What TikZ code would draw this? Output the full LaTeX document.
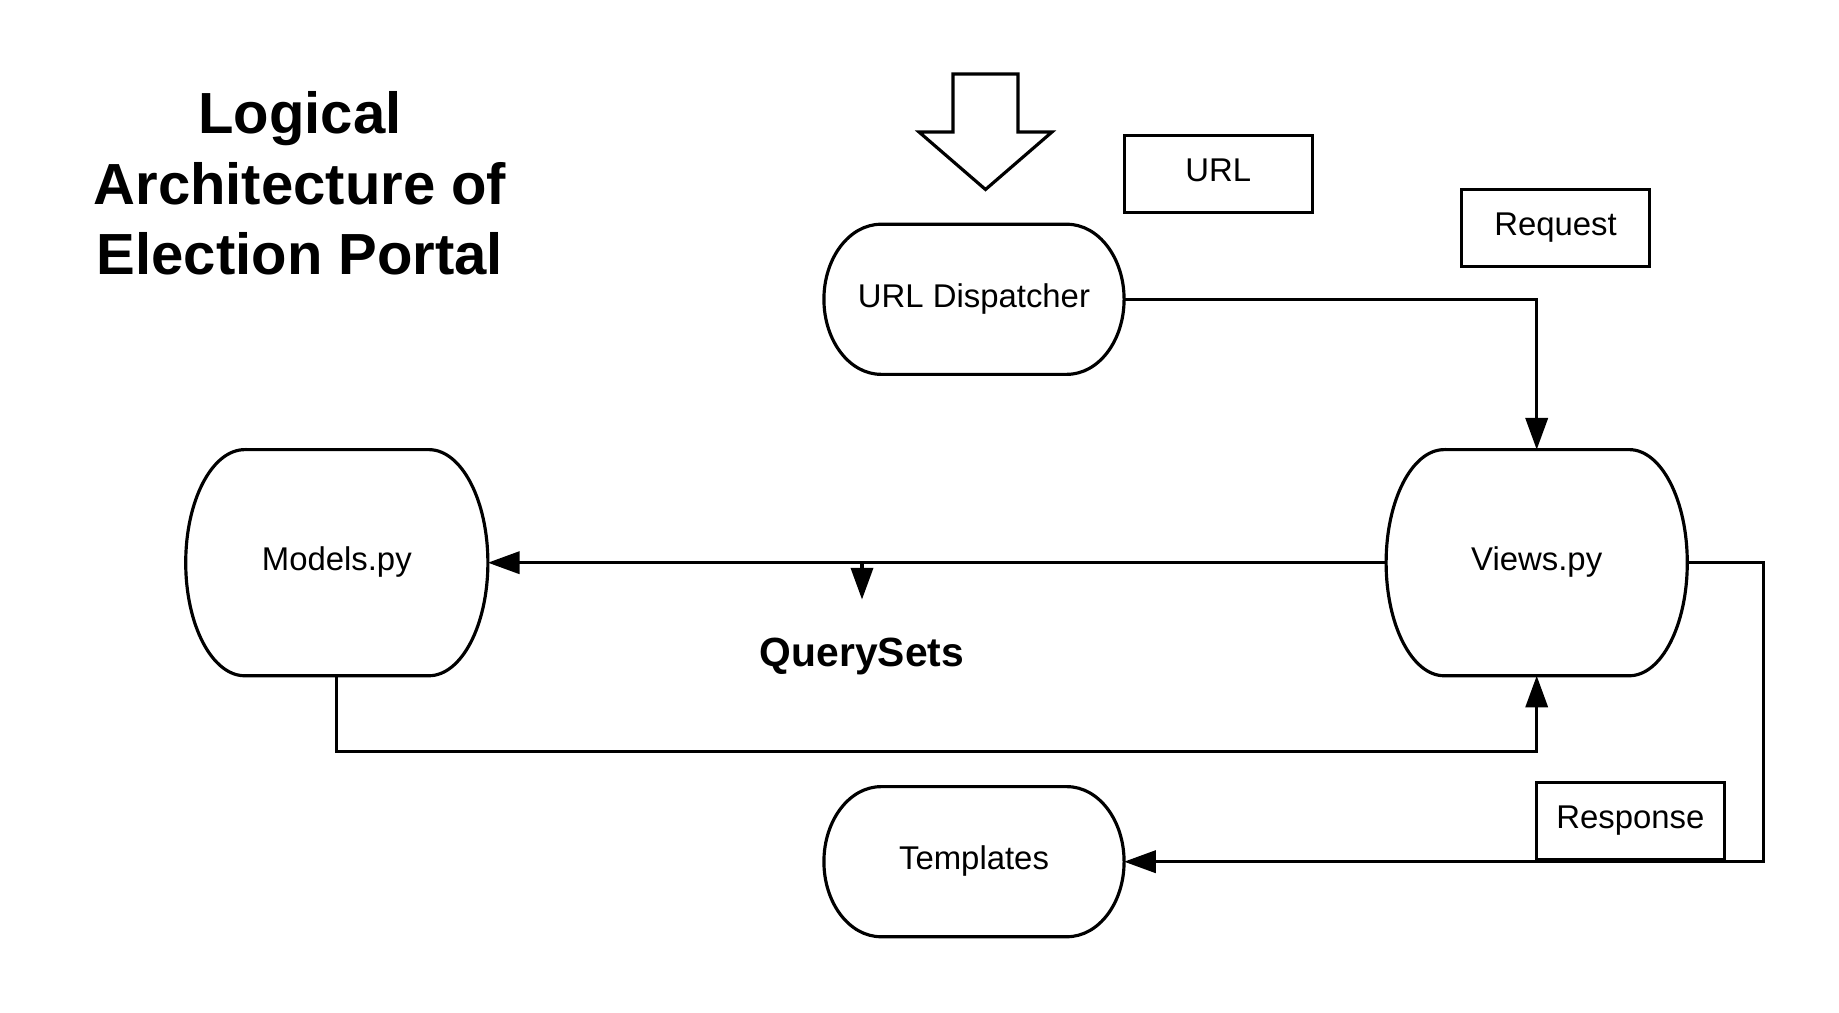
\documentclass[tikz,border=0pt]{standalone}
\usepackage{fontspec}
\setmainfont{Liberation Sans}
\usetikzlibrary{arrows.meta}

\begin{document}
\begin{tikzpicture}[
      x=0.01cm, y=-0.01cm,
      nodes={
        font=\fontsize{9.35}{11}\selectfont, inner sep=0pt, outer sep=0pt
      },
      lbl/.style={text height=0.72em, text depth=0.28em},
      term/.style 2 args={lbl, minimum width=#1cm, minimum height=#2cm},
      tag/.style={lbl, draw, minimum width=1.88cm, minimum height=0.77cm},
      line width=0.9pt, >={Triangle[length=9pt, width=6.3pt]}
      ]

      \useasboundingbox (0,0) rectangle (1839,1013);

      \node[align=center, anchor=north,
            font=\fontsize{16.5}{20.06}\selectfont\bfseries]
            (title) at (300,91.8) {Logical\\Architecture of\\Election Portal};

      \node[term={3}{1.5}]     (disp)   at (974,299.3)    {URL Dispatcher};
      \node[term={3.02}{2.26}] (models) at (336.8,562.7)  {Models.py};
      \node[term={3.01}{2.26}] (views)  at (1536.7,562.7) {Views.py};
      \node[term={3}{1.5}]     (tmpl)   at (974,861.7)    {Templates};

      \node[tag] (url)  at (1218.3,173.7) {URL};
      \node[tag] (req)  at (1555.5,228)   {Request};
      \node[tag] (resp) at (1630.3,820.7) {Response};

      \node[anchor=base, font=\fontsize{11.6}{14}\selectfont\bfseries]
            (qs) at (862,666.7) {QuerySets};
      \coordinate (qtop) at (862,562.7);
      \coordinate (qtip) at (862,599.5);

  % terminator outlines
  \foreach \n/\rx/\ry in {disp/0.57/0.75, models/0.59/1.13, views/0.58/1.13, tmpl/0.57/0.75}
    \draw ([xshift=\rx cm]\n.north west) -- ([xshift=-\rx cm]\n.north east)
      arc[start angle=90, end angle=-90, x radius=\rx cm, y radius=\ry cm]
      -- ([xshift=\rx cm]\n.south west)
      arc[start angle=270, end angle=90, x radius=\rx cm, y radius=\ry cm] -- cycle;

  % entry arrow
  \draw (953,74) -- (1018,74) -- (1018,132) -- (1052,132) -- (985.5,189.5)
    -- (919,132) -- (953,132) -- cycle;

  % Connect the nodes
  \draw[->] (disp.east) -| (views.north);
  \draw[->] (views.west) -- (models.east);
  \draw[->] (qtop) -- (qtip);
  \draw[->] (models.south) -- ++(0,75.7) -| (views.south);
  \draw[->] (views.east) -- ++(76.6,0) |- (tmpl.east);

\end{tikzpicture}
\end{document}
